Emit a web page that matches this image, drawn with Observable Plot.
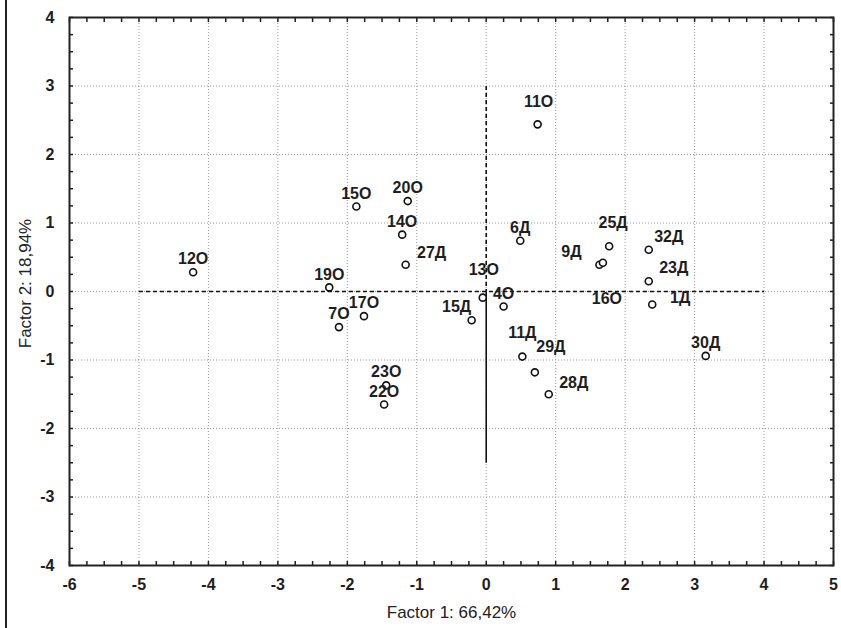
<!DOCTYPE html>
<html><head><meta charset="utf-8">
<script src="https://cdn.jsdelivr.net/npm/d3@7"></script>
<script src="https://cdn.jsdelivr.net/npm/@observablehq/plot@0.6"></script>
<style>
html,body{margin:0;padding:0;background:#fff;}
#wrap{position:relative;width:841px;height:628px;}
#edge{position:absolute;left:5px;top:0;width:2px;height:628px;background:#222;}
</style></head>
<body><div id="wrap"><div id="edge"></div><div id="chart"></div></div>
<script>
const names = ["12О","11О","15О","20О","14О","27Д","6Д","19О","13О","4О","15Д","17О","7О","25Д","9Д","16О","32Д","23Д","1Д","30Д","11Д","29Д","28Д","23О","22О"];
const factor1 = [-4.22,0.74,-1.87,-1.13,-1.21,-1.16,0.49,-2.26,-0.05,0.25,-0.21,-1.76,-2.12,1.77,1.63,1.68,2.34,2.34,2.39,3.16,0.52,0.70,0.90,-1.44,-1.47];
const factor2 = [0.28,2.44,1.24,1.32,0.83,0.39,0.74,0.06,-0.09,-0.22,-0.42,-0.36,-0.52,0.66,0.39,0.42,0.61,0.15,-0.19,-0.94,-0.95,-1.18,-1.50,-1.37,-1.65];
const xTicks = [-6,-5,-4,-3,-2,-1,0,1,2,3,4,5];
const yTicks = [-4,-3,-2,-1,0,1,2,3,4];
const xTitle = "Factor 1: 66,42%";
const yTitle = "Factor 2: 18,94%";
// label nudges in pixels (style only)
const labelShift = {"11О":[1,-22],"27Д":[26,-12],"13О":[1,-28],"15Д":[-15,-13],"25Д":[4,-23],"9Д":[-28,-13],"16О":[4,36],"32Д":[20,-13],"23Д":[25,-13],"1Д":[28,-7],"11Д":[0,-24],"29Д":[16,-25],"28Д":[25,-11]};

const pts = names.map((n,i)=>({name:n,x:factor1[i],y:factor2[i]}));
const minorX = d3.range(-6,5.001,0.25);
const minorY = d3.range(-4,4.001,0.25);
const hLine = [{x1:-5,x2:4,y:0}];
const vDash = [{x:0,y1:3,y2:0}];
const vSolid = [{x:0,y1:0,y2:-2.5}];

const labelMarks = pts.map(p=>{
  const s = labelShift[p.name] || [0,-13];
  return Plot.text([p],{x:"x",y:"y",text:"name",dx:s[0],dy:s[1],fontSize:16,fontWeight:"bold",fill:"#1e1e1e",textAnchor:"middle"});
});

const chart = Plot.plot({
  width:841,height:628,
  marginLeft:69,marginRight:8,marginTop:17,marginBottom:63,
  style:{fontFamily:"'Liberation Sans', Arial, sans-serif",fontSize:"16px",background:"transparent",color:"#1e1e1e"},
  x:{domain:[-6,5],axis:null},
  y:{domain:[-4,4],axis:null},
  marks:[
    Plot.ruleX(xTicks,{stroke:"#999",strokeWidth:1,strokeDasharray:"1,2"}),
    Plot.ruleY(yTicks,{stroke:"#999",strokeWidth:1,strokeDasharray:"1,2"}),
    Plot.axisX({anchor:"bottom",ticks:minorX,tickSize:-4,tickFormat:()=>"",label:null,strokeWidth:1.5}),
    Plot.axisX({anchor:"top",ticks:minorX,tickSize:-4,tickFormat:()=>"",label:null,strokeWidth:1.5}),
    Plot.axisY({anchor:"left",ticks:minorY,tickSize:-4,tickFormat:()=>"",label:null,strokeWidth:1.5}),
    Plot.axisY({anchor:"right",ticks:minorY,tickSize:-4,tickFormat:()=>"",label:null,strokeWidth:1.5}),
    Plot.text(xTicks,{x:d=>d,frameAnchor:"bottom",dy:19,text:d=>String(d),fontSize:16,fontWeight:"bold",fill:"#1e1e1e",textAnchor:"middle",lineAnchor:"middle"}),
    Plot.text(yTicks,{y:d=>d,frameAnchor:"left",dx:-15,text:d=>String(d),fontSize:16,fontWeight:"bold",fill:"#1e1e1e",textAnchor:"end",lineAnchor:"middle"}),
    Plot.text([xTitle],{frameAnchor:"bottom",dy:47,text:d=>d,fontSize:17,fill:"#222",textAnchor:"middle",lineAnchor:"middle"}),
    Plot.text([yTitle],{frameAnchor:"left",dx:-44,dy:-8,rotate:-90,text:d=>d,fontSize:17,fill:"#222",textAnchor:"middle",lineAnchor:"middle"}),
    Plot.link(hLine,{x1:"x1",x2:"x2",y1:"y",y2:"y",stroke:"#111",strokeWidth:1.6,strokeDasharray:"4,3"}),
    Plot.link(vDash,{x1:"x",x2:"x",y1:"y1",y2:"y2",stroke:"#111",strokeWidth:1.6,strokeDasharray:"4,3"}),
    Plot.link(vSolid,{x1:"x",x2:"x",y1:"y1",y2:"y2",stroke:"#111",strokeWidth:1.6}),
    Plot.frame({stroke:"#222",strokeWidth:2}),
    Plot.dot(pts,{x:"x",y:"y",r:3.5,fill:"white",stroke:"#111",strokeWidth:1.6}),
    ...labelMarks
  ]
});
document.getElementById("chart").appendChild(chart);
</script>
</body></html>
